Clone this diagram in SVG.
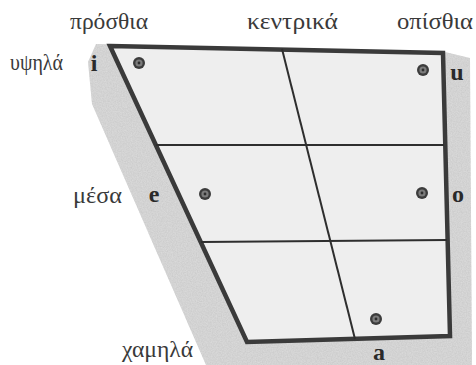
<svg xmlns="http://www.w3.org/2000/svg" width="476" height="365" viewBox="0 0 476 365">
<style>
.lbl{font-family:"Liberation Serif","DejaVu Serif",serif;font-size:23px;fill:#3a3a3a}
.v{font-family:"Liberation Serif","DejaVu Serif",serif;font-size:24px;font-weight:bold;fill:#2a2a2a}
.grid{stroke:#2e2e2e;stroke-width:2;fill:none}
.border{stroke:#3a3a3a;stroke-width:4.5;fill:#eeeeee;stroke-linejoin:miter}
</style>
<defs>
<g id="dot"><circle r="6" fill="#3c3c3c"/><circle r="3.6" fill="#7c7c7c"/><circle r="1.4" fill="#2e2e2e"/></g>
<filter id="grain" x="0" y="0" width="100%" height="100%">
<feTurbulence type="fractalNoise" baseFrequency="0.8" numOctaves="2" seed="3" result="n"/>
<feColorMatrix in="n" type="matrix" values="0 0 0 0 0.45  0 0 0 0 0.45  0 0 0 0 0.45  0 0 0 0.6 -0.1" result="g"/>
<feComposite in="g" in2="SourceGraphic" operator="in" result="gi"/>
<feMerge><feMergeNode in="SourceGraphic"/><feMergeNode in="gi"/></feMerge>
</filter>
</defs>
<rect width="476" height="365" fill="#ffffff"/>
<g id="shading">
<polygon points="96,44 445,52 470,58 472,365 206,365 92,104 88,62" fill="#dadada" filter="url(#grain)"/>
</g>
<g id="chart">
<polygon class="border" points="110,46 443,53 450,336 247,342"/>
</g>
<g id="connectors">
<line class="grid" x1="282" y1="49" x2="355" y2="339"/>
<line class="grid" x1="156" y1="145" x2="444" y2="145"/>
<line class="grid" x1="201" y1="242" x2="447" y2="240"/>
</g>
<g id="labels">
<text class="lbl" x="70" y="29" textLength="78" lengthAdjust="spacingAndGlyphs">πρόσθια</text>
<text class="lbl" x="247" y="29" textLength="91" lengthAdjust="spacingAndGlyphs">κεντρικά</text>
<text class="lbl" x="397" y="29" textLength="76" lengthAdjust="spacingAndGlyphs">οπίσθια</text>
<text class="lbl" x="10" y="70" textLength="53" lengthAdjust="spacingAndGlyphs">υψηλά</text>
<text class="lbl" x="73" y="203" textLength="49" lengthAdjust="spacingAndGlyphs">μέσα</text>
<text class="lbl" x="122" y="357" textLength="71" lengthAdjust="spacingAndGlyphs">χαμηλά</text>
</g>
<g id="vowel-i"><text class="v" x="94" y="71" text-anchor="middle">i</text><use href="#dot" x="139" y="63"/></g>
<g id="vowel-u"><text class="v" x="457" y="80" text-anchor="middle">u</text><use href="#dot" x="423" y="70"/></g>
<g id="vowel-e"><text class="v" x="154" y="202" text-anchor="middle">e</text><use href="#dot" x="205" y="194"/></g>
<g id="vowel-o"><text class="v" x="458" y="202" text-anchor="middle">o</text><use href="#dot" x="422" y="193"/></g>
<g id="vowel-a"><text class="v" x="379" y="360" text-anchor="middle">a</text><use href="#dot" x="376" y="319"/></g>
</svg>
